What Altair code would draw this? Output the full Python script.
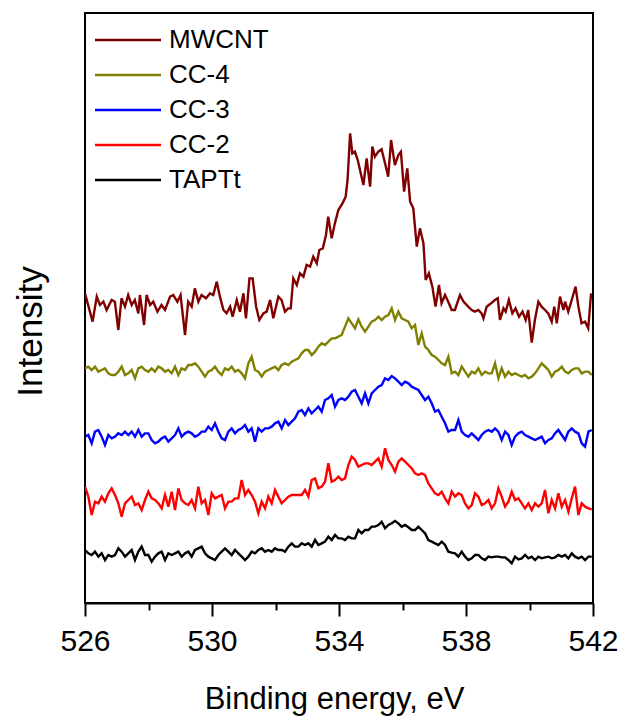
import altair as alt
import pandas as pd

FONT = "Liberation Sans"

samples = ["MWCNT", "CC-4", "CC-3", "CC-2", "TAPTt"]
colors = ["#800000", "#808000", "#0000ff", "#ff0000", "#000000"]

major_ticks = [526, 530, 534, 538, 542]
minor_ticks = [528, 532, 536, 540]

# MWCNT spectrum (binding energy in eV, intensity in a.u.)
mwcnt_energy = [
    526.00, 526.24, 526.37, 526.47, 526.58, 526.68, 526.84, 526.94, 527.05, 527.15,
    527.26, 527.36, 527.47, 527.57, 527.68, 527.73, 527.86, 527.94, 528.05, 528.15,
    528.28, 528.41, 528.52, 528.68, 528.78, 528.91, 529.01, 529.15, 529.25, 529.36,
    529.46, 529.57, 529.67, 529.81, 529.94, 530.04, 530.15, 530.25, 530.36, 530.46,
    530.57, 530.65, 530.78, 530.88, 530.99, 531.07, 531.18, 531.28, 531.39, 531.49,
    531.62, 531.72, 531.83, 531.93, 532.09, 532.19, 532.30, 532.40, 532.48, 532.56,
    532.67, 532.77, 532.88, 532.98, 533.09, 533.19, 533.30, 533.38, 533.49, 533.59,
    533.66, 533.77, 533.87, 533.98, 534.11, 534.21, 534.27, 534.35, 534.42, 534.50,
    534.59, 534.71, 534.77, 534.87, 534.98, 535.05, 535.13, 535.24, 535.34, 535.45,
    535.55, 535.64, 535.76, 535.87, 535.95, 536.05, 536.15, 536.24, 536.34, 536.45,
    536.55, 536.66, 536.73, 536.83, 536.94, 537.04, 537.15, 537.23, 537.34, 537.44,
    537.55, 537.65, 537.81, 537.92, 538.07, 538.18, 538.28, 538.39, 538.49, 538.55,
    538.65, 538.79, 538.91, 539.00, 539.07, 539.18, 539.25, 539.35, 539.46, 539.56,
    539.67, 539.78, 539.88, 539.96, 540.07, 540.17, 540.28, 540.38, 540.49, 540.59,
    540.70, 540.78, 540.86, 540.96, 541.07, 541.12, 541.22, 541.33, 541.45, 541.54,
    541.64, 541.75, 541.85, 541.94,
]
mwcnt_intensity = [
    929, 844, 919, 894, 904, 879, 909, 904, 819, 914,
    889, 924, 894, 909, 869, 924, 834, 924, 894, 904,
    874, 894, 879, 919, 924, 904, 924, 804, 904, 889,
    944, 904, 924, 914, 929, 924, 964, 919, 879, 869,
    889, 859, 909, 874, 929, 854, 974, 974, 889, 849,
    869, 874, 909, 854, 919, 909, 874, 884, 884, 974,
    954, 989, 979, 1014, 1009, 1039, 1019, 1059, 1064, 1104,
    1159, 1094, 1139, 1179, 1199, 1219, 1269, 1409, 1349, 1354,
    1329, 1279, 1254, 1334, 1249, 1369, 1339, 1354, 1361, 1319,
    1279, 1389, 1314, 1344, 1354, 1234, 1304, 1204, 1184, 1069,
    1124, 1079, 969, 989, 949, 889, 954, 899, 924, 904,
    879, 879, 924, 904, 889, 879, 874, 879, 869, 854,
    889, 899, 909, 914, 849, 884, 874, 909, 869, 884,
    859, 874, 849, 879, 781, 849, 904, 889, 879, 869,
    844, 889, 839, 919, 879, 904, 874, 909, 949, 889,
    839, 844, 824, 929,
]

# common energy grid of the other four spectra (eV)
energy_grid = [
    526.0, 526.105, 526.21, 526.315, 526.42, 526.525, 526.63, 526.735, 526.84, 526.945,
    527.05, 527.155, 527.26, 527.365, 527.47, 527.575, 527.68, 527.785, 527.89, 527.995,
    528.1, 528.205, 528.31, 528.415, 528.52, 528.625, 528.73, 528.835, 528.94, 529.045,
    529.15, 529.255, 529.36, 529.465, 529.57, 529.675, 529.78, 529.885, 529.99, 530.095,
    530.2, 530.305, 530.41, 530.515, 530.62, 530.725, 530.83, 530.935, 531.04, 531.145,
    531.25, 531.355, 531.46, 531.565, 531.67, 531.775, 531.88, 531.985, 532.09, 532.195,
    532.3, 532.405, 532.51, 532.615, 532.72, 532.825, 532.93, 533.035, 533.14, 533.245,
    533.35, 533.455, 533.56, 533.665, 533.77, 533.875, 533.98, 534.085, 534.19, 534.295,
    534.4, 534.505, 534.61, 534.715, 534.82, 534.925, 535.03, 535.135, 535.24, 535.345,
    535.45, 535.555, 535.66, 535.765, 535.87, 535.975, 536.08, 536.185, 536.29, 536.395,
    536.5, 536.605, 536.71, 536.815, 536.92, 537.025, 537.13, 537.235, 537.34, 537.445,
    537.55, 537.655, 537.76, 537.865, 537.97, 538.075, 538.18, 538.285, 538.39, 538.495,
    538.6, 538.705, 538.81, 538.915, 539.02, 539.125, 539.23, 539.335, 539.44, 539.545,
    539.65, 539.755, 539.86, 539.965, 540.07, 540.175, 540.28, 540.385, 540.49, 540.595,
    540.7, 540.805, 540.91, 541.015, 541.12, 541.225, 541.33, 541.435, 541.54, 541.645,
    541.75, 541.855, 541.96,
]

cc4_intensity = [
    704, 709, 699, 709, 694, 699, 704, 689, 684, 684,
    694, 709, 684, 689, 699, 674, 704, 709, 699, 694,
    704, 694, 709, 704, 694, 699, 689, 709, 684, 704,
    699, 714, 714, 719, 709, 694, 679, 694, 699, 709,
    694, 684, 704, 699, 709, 694, 699, 689, 674, 719,
    739, 699, 694, 679, 694, 699, 704, 709, 699, 714,
    719, 714, 724, 729, 734, 749, 759, 759, 744, 754,
    769, 779, 774, 784, 794, 794, 799, 804, 829, 854,
    839, 824, 851, 829, 814, 829, 844, 849, 859, 849,
    859, 864, 884, 849, 874, 854, 849, 844, 824, 834,
    774, 809, 769, 759, 744, 739, 729, 719, 714, 739,
    689, 694, 684, 709, 694, 679, 694, 689, 704, 684,
    694, 689, 689, 719, 674, 704, 679, 694, 684, 689,
    684, 679, 684, 674, 679, 689, 704, 719, 709, 699,
    679, 694, 699, 709, 694, 689, 699, 704, 704, 689,
    694, 694, 684,
]

cc3_intensity = [
    499, 504, 479, 514, 519, 499, 474, 504, 494, 499,
    509, 504, 514, 504, 514, 499, 519, 499, 509, 509,
    489, 479, 484, 494, 499, 484, 494, 504, 524, 499,
    509, 514, 509, 499, 504, 514, 514, 529, 519, 539,
    514, 494, 489, 514, 524, 509, 519, 524, 534, 514,
    524, 484, 524, 514, 524, 524, 529, 539, 544, 524,
    549, 534, 544, 554, 574, 579, 564, 584, 569, 579,
    589, 574, 609, 614, 624, 589, 609, 614, 609, 619,
    634, 639, 619, 599, 629, 599, 629, 639, 649, 654,
    674, 669, 681, 674, 664, 654, 664, 659, 649, 644,
    639, 624, 609, 619, 599, 574, 579, 559, 539, 514,
    519, 519, 549, 514, 504, 499, 509, 499, 489, 504,
    514, 519, 514, 524, 514, 489, 514, 504, 474, 499,
    509, 514, 504, 499, 494, 489, 494, 499, 479, 489,
    494, 509, 519, 504, 489, 514, 524, 514, 509, 479,
    469, 514, 519,
]

cc2_intensity = [
    349, 319, 264, 304, 299, 319, 304, 329, 344, 324,
    299, 259, 299, 309, 319, 294, 299, 279, 309, 334,
    314, 309, 299, 284, 324, 289, 334, 279, 344, 309,
    299, 294, 309, 284, 349, 299, 309, 264, 329, 314,
    319, 324, 284, 304, 304, 314, 314, 369, 324, 339,
    324, 304, 269, 304, 284, 319, 299, 339, 319, 299,
    309, 319, 324, 324, 324, 324, 339, 319, 369, 374,
    344, 349, 364, 419, 364, 369, 379, 369, 374, 414,
    439, 429, 409, 414, 419, 419, 414, 424, 434, 409,
    464, 429, 414, 394, 424, 434, 424, 414, 404, 389,
    384, 389, 384, 359, 344, 329, 324, 334, 314, 299,
    334, 319, 329, 324, 299, 284, 294, 329, 319, 294,
    299, 309, 284, 299, 344, 319, 289, 304, 334, 309,
    314, 299, 284, 299, 279, 299, 289, 299, 339, 269,
    309, 284, 329, 289, 309, 274, 314, 349, 264, 299,
    289, 284, 281,
]

taptt_intensity = [
    159, 149, 144, 154, 139, 149, 129, 144, 139, 144,
    164, 154, 139, 149, 159, 129, 154, 169, 144, 144,
    124, 139, 149, 154, 129, 149, 144, 149, 154, 139,
    149, 154, 139, 159, 164, 169, 149, 139, 134, 129,
    144, 154, 164, 154, 144, 159, 149, 139, 129, 139,
    154, 149, 159, 164, 154, 159, 154, 164, 159, 159,
    154, 169, 179, 169, 169, 179, 174, 179, 169, 189,
    174, 179, 184, 199, 189, 204, 194, 194, 189, 199,
    194, 194, 219, 209, 219, 219, 229, 229, 234, 244,
    224, 234, 239, 246, 239, 229, 234, 227, 219, 219,
    229, 219, 209, 189, 184, 179, 174, 184, 174, 154,
    151, 149, 139, 154, 139, 129, 134, 144, 144, 134,
    129, 139, 137, 139, 139, 137, 137, 129, 119, 139,
    131, 134, 144, 134, 139, 129, 139, 134, 137, 139,
    134, 137, 144, 139, 144, 134, 149, 139, 134, 139,
    129, 139, 139,
]

rows = []
for e, v in zip(mwcnt_energy, mwcnt_intensity):
    rows.append({"energy": e, "intensity": v, "sample": "MWCNT"})
for name, vals in [("CC-4", cc4_intensity), ("CC-3", cc3_intensity),
                   ("CC-2", cc2_intensity), ("TAPTt", taptt_intensity)]:
    for e, v in zip(energy_grid, vals):
        rows.append({"energy": e, "intensity": v, "sample": name})
df = pd.DataFrame(rows)

x_scale = alt.Scale(domain=[526, 542], nice=False, zero=False)
y_scale = alt.Scale(domain=[0, 1770], nice=False, zero=False)

lines = alt.Chart(df).mark_line(strokeWidth=2.4, clip=True).encode(
    x=alt.X(
        "energy:Q",
        scale=x_scale,
        axis=alt.Axis(
            orient="bottom",
            values=major_ticks,
            format="d",
            title="Binding energy, eV",
            grid=False,
            domainColor="black",
            domainWidth=2,
            tickColor="black",
            tickWidth=2,
            tickSize=13,
            labelFont=FONT,
            labelFontSize=30,
            labelColor="black",
            labelPadding=10,
            labelFlush=False,
            titleFont=FONT,
            titleFontSize=31,
            titleFontWeight="normal",
            titleColor="black",
            titlePadding=28,
            titleX=249,
            titleAlign="center",
        ),
    ),
    y=alt.Y(
        "intensity:Q",
        scale=y_scale,
        axis=alt.Axis(
            title="Intensity",
            labels=False,
            ticks=False,
            domain=False,
            grid=False,
            titleFont=FONT,
            titleFontSize=35,
            titleFontWeight="normal",
            titleColor="black",
            titleAngle=270,
            titleAlign="center",
            titleBaseline="middle",
            titleX=-55,
            titleY=318,
        ),
    ),
    color=alt.Color(
        "sample:N",
        scale=alt.Scale(domain=samples, range=colors),
        legend=alt.Legend(
            title=None,
            orient="none",
            legendX=30,
            legendY=14,
            direction="vertical",
            symbolType="M-3,0H3",
            symbolSize=484,
            symbolStrokeWidth=2.5,
            labelFont=FONT,
            labelFontSize=26,
            labelColor="black",
            labelOffset=28,
            rowPadding=9,
            padding=0,
        ),
    ),
    order=alt.Order("energy:Q"),
)

minor = alt.Chart(pd.DataFrame({"energy": minor_ticks})).mark_point(opacity=0).encode(
    x=alt.X(
        "energy:Q",
        scale=x_scale,
        axis=alt.Axis(
            orient="bottom",
            values=minor_ticks,
            labels=False,
            domain=False,
            grid=False,
            title=None,
            tickColor="black",
            tickWidth=2,
            tickSize=7,
        ),
    ),
)

chart = alt.layer(lines, minor).resolve_axis(x="independent").properties(
    width=508,
    height=590,
    background="white",
    autosize=alt.AutoSizeParams(type="none"),
    padding={"left": 85, "top": 13, "right": 30, "bottom": 117},
).configure_view(stroke="black", strokeWidth=2)

chart.save("out.html", embed_options={"renderer": "svg", "actions": False})
